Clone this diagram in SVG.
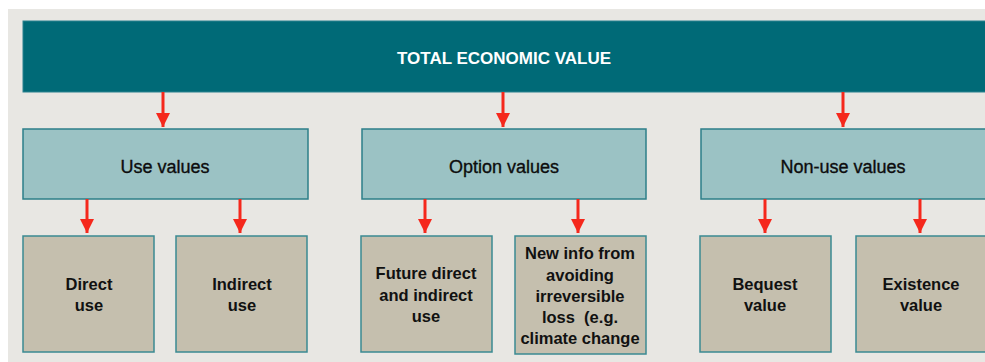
<svg xmlns="http://www.w3.org/2000/svg" width="985" height="362" viewBox="0 0 985 362">
  <defs>
    <style>
      .panel { fill: #e8e7e3; }
      .banner { fill: #006a77; stroke: #2b8290; stroke-width: 1; }
      .cat { fill: #9bc2c4; stroke: #2d7f89; stroke-width: 1.5; }
      .leaf { fill: #c5bfae; stroke: #3a8a92; stroke-width: 1.5; }
      .title { font-family: "Liberation Sans", Arial, sans-serif; font-weight: bold; font-size: 17px; fill: #ffffff; text-anchor: middle; }
      .catText { font-family: "Liberation Sans", Arial, sans-serif; font-size: 18px; fill: #0d0d0d; stroke: #0d0d0d; stroke-width: 0.35; text-anchor: middle; }
      .leafText { font-family: "Liberation Sans", Arial, sans-serif; font-weight: bold; font-size: 16.5px; fill: #111111; text-anchor: middle; white-space: pre; }
      .link { stroke: #f5281c; stroke-width: 3; fill: none; marker-end: url(#head); }
    </style>
    <marker id="head" viewBox="0 0 14 14" refX="14" refY="7" markerWidth="14" markerHeight="14" markerUnits="userSpaceOnUse" orient="auto">
      <path d="M0,0 L14,7 L0,14 Z" fill="#f5281c"/>
    </marker>
  </defs>

  <rect x="0" y="0" width="985" height="362" fill="#ffffff"/>
  <rect class="panel" x="8" y="9" width="990" height="360"/>

  <g id="total-economic-value">
    <rect class="banner" x="23" y="21" width="970" height="71"/>
    <text class="title" x="504" y="64">TOTAL ECONOMIC VALUE</text>
  </g>

  <g id="use-values">
    <rect class="cat" x="23" y="129" width="285" height="70"/>
    <text class="catText" x="165" y="173">Use values</text>
  </g>
  <g id="option-values">
    <rect class="cat" x="362" y="129" width="284" height="70"/>
    <text class="catText" x="504" y="173">Option values</text>
  </g>
  <g id="non-use-values">
    <rect class="cat" x="701" y="129" width="295" height="70"/>
    <text class="catText" x="843" y="173">Non-use values</text>
  </g>

  <g id="direct-use">
    <rect class="leaf" x="23" y="236" width="131" height="116"/>
    <text class="leafText" x="89" y="290">Direct</text>
    <text class="leafText" x="89" y="311">use</text>
  </g>
  <g id="indirect-use">
    <rect class="leaf" x="176" y="236" width="131" height="116"/>
    <text class="leafText" x="242" y="290">Indirect</text>
    <text class="leafText" x="242" y="311">use</text>
  </g>
  <g id="future-use">
    <rect class="leaf" x="361" y="236" width="131" height="116"/>
    <text class="leafText" x="426" y="279">Future direct</text>
    <text class="leafText" x="426" y="301">and indirect</text>
    <text class="leafText" x="426" y="322">use</text>
  </g>
  <g id="new-info">
    <rect class="leaf" x="515" y="236" width="131" height="118"/>
    <text class="leafText" x="580" y="259">New info from</text>
    <text class="leafText" x="580" y="281">avoiding</text>
    <text class="leafText" x="580" y="302">irreversible</text>
    <text class="leafText" x="580" y="323" xml:space="preserve">loss  (e.g.</text>
    <text class="leafText" x="580" y="344">climate change</text>
  </g>
  <g id="bequest-value">
    <rect class="leaf" x="700" y="236" width="131" height="116"/>
    <text class="leafText" x="765" y="290">Bequest</text>
    <text class="leafText" x="765" y="311">value</text>
  </g>
  <g id="existence-value">
    <rect class="leaf" x="856" y="236" width="140" height="116"/>
    <text class="leafText" x="921" y="290">Existence</text>
    <text class="leafText" x="921" y="311">value</text>
  </g>

  <g id="connectors">
    <line class="link" x1="163" y1="92" x2="163" y2="127"/>
    <line class="link" x1="503" y1="92" x2="503" y2="127"/>
    <line class="link" x1="843" y1="92" x2="843" y2="127"/>
    <line class="link" x1="87" y1="199" x2="87" y2="233"/>
    <line class="link" x1="240" y1="199" x2="240" y2="233"/>
    <line class="link" x1="425" y1="199" x2="425" y2="233"/>
    <line class="link" x1="578" y1="199" x2="578" y2="233"/>
    <line class="link" x1="765" y1="199" x2="765" y2="233"/>
    <line class="link" x1="920" y1="199" x2="920" y2="233"/>
  </g>
</svg>
